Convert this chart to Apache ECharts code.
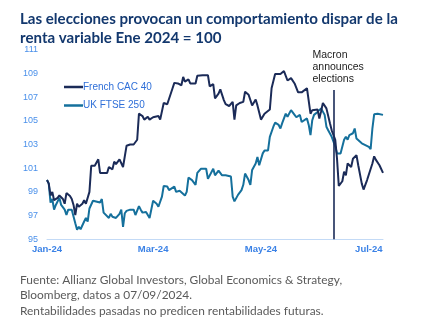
<!DOCTYPE html>
<html>
<head>
<meta charset="utf-8">
<script src="https://cdn.jsdelivr.net/npm/echarts@6/dist/echarts.min.js"></script>
<style>html,body{margin:0;padding:0;background:#fff;}#c{width:440px;height:332px;}</style>
</head>
<body>
<div id="c"></div>
<script>
var cacDates = ['2024-01-01','2024-01-02','2024-01-03','2024-01-04','2024-01-05','2024-01-07','2024-01-08','2024-01-10','2024-01-11','2024-01-12','2024-01-14','2024-01-15','2024-01-16','2024-01-17','2024-01-18','2024-01-19','2024-01-21','2024-01-22','2024-01-23','2024-01-25','2024-01-26','2024-01-28','2024-01-30','2024-01-31','2024-02-04','2024-02-05','2024-02-07','2024-02-08','2024-02-09','2024-02-11','2024-02-12','2024-02-13','2024-02-15','2024-02-17','2024-02-19','2024-02-21','2024-02-22','2024-02-24','2024-02-25','2024-02-27','2024-02-28','2024-03-01','2024-03-02','2024-03-04','2024-03-05','2024-03-07','2024-03-09','2024-03-10','2024-03-12','2024-03-13','2024-03-15','2024-03-17','2024-03-18','2024-03-19','2024-03-21','2024-03-22','2024-03-25','2024-03-26','2024-03-29','2024-04-01','2024-04-02','2024-04-04','2024-04-05','2024-04-07','2024-04-08','2024-04-10','2024-04-11','2024-04-13','2024-04-15','2024-04-16','2024-04-17','2024-04-19','2024-04-21','2024-04-22','2024-04-24','2024-04-25','2024-04-26','2024-04-28','2024-04-29','2024-05-01','2024-05-03','2024-05-04','2024-05-06','2024-05-07','2024-05-09','2024-05-12','2024-05-13','2024-05-14','2024-05-16','2024-05-18','2024-05-20','2024-05-22','2024-05-24','2024-05-27','2024-05-29','2024-05-30','2024-06-02','2024-06-03','2024-06-04','2024-06-05','2024-06-07','2024-06-09','2024-06-10','2024-06-12','2024-06-13','2024-06-14','2024-06-16','2024-06-17','2024-06-18','2024-06-19','2024-06-21','2024-06-22','2024-06-24','2024-06-25','2024-06-27','2024-06-28','2024-06-30','2024-07-01','2024-07-03','2024-07-04','2024-07-05','2024-07-06','2024-07-07','2024-07-09'];
var cacValues = [100.0,99.7,98.7,99.0,98.3,98.5,98.7,98.4,98.0,98.9,98.65,98.4,97.9,97.05,98.0,97.75,98.0,98.3,98.0,99.0,101.2,101.2,101.75,100.6,100.6,101.1,100.9,101.55,101.35,101.75,101.9,101.1,102.9,103.0,103.0,103.4,105.6,105.4,105.1,105.35,105.1,105.3,105.2,105.4,105.1,106.5,106.4,106.4,107.75,108.2,108.15,108.0,108.7,108.3,108.5,108.15,108.15,108.8,108.85,108.85,107.9,108.1,106.9,107.3,107.65,106.75,106.4,106.25,106.6,105.1,106.3,106.5,106.6,107.45,107.2,107.3,106.3,106.8,106.3,105.1,105.6,105.7,105.95,107.75,108.95,108.95,109.05,109.2,108.4,108.6,108.15,107.4,107.4,107.75,105.6,105.9,105.95,105.2,105.8,106.5,106.05,104.8,104.2,103.4,101.8,99.5,99.9,100.7,100.4,101.4,101.1,101.8,102.1,101.25,99.7,99.2,100.0,100.1,101.4,102.0,101.7,101.55,101.25,100.6];

var ftseDates = ['2024-01-01','2024-01-02','2024-01-03','2024-01-04','2024-01-05','2024-01-06','2024-01-08','2024-01-09','2024-01-11','2024-01-12','2024-01-13','2024-01-15','2024-01-16','2024-01-17','2024-01-18','2024-01-19','2024-01-20','2024-01-22','2024-01-23','2024-01-24','2024-01-25','2024-01-27','2024-01-28','2024-01-31','2024-02-01','2024-02-02','2024-02-03','2024-02-05','2024-02-06','2024-02-07','2024-02-09','2024-02-11','2024-02-12','2024-02-13','2024-02-14','2024-02-15','2024-02-17','2024-02-19','2024-02-20','2024-02-22','2024-02-23','2024-02-24','2024-02-26','2024-02-28','2024-03-01','2024-03-03','2024-03-04','2024-03-06','2024-03-07','2024-03-09','2024-03-10','2024-03-11','2024-03-13','2024-03-14','2024-03-16','2024-03-17','2024-03-19','2024-03-20','2024-03-21','2024-03-23','2024-03-25','2024-03-26','2024-03-28','2024-03-31','2024-04-01','2024-04-04','2024-04-05','2024-04-07','2024-04-09','2024-04-11','2024-04-12','2024-04-14','2024-04-15','2024-04-16','2024-04-18','2024-04-19','2024-04-20','2024-04-21','2024-04-22','2024-04-24','2024-04-25','2024-04-26','2024-04-28','2024-04-29','2024-04-30','2024-05-02','2024-05-03','2024-05-05','2024-05-06','2024-05-08','2024-05-09','2024-05-11','2024-05-12','2024-05-13','2024-05-15','2024-05-16','2024-05-18','2024-05-19','2024-05-20','2024-05-21','2024-05-23','2024-05-24','2024-05-25','2024-05-27','2024-05-28','2024-05-29','2024-05-30','2024-05-31','2024-06-02','2024-06-03','2024-06-04','2024-06-06','2024-06-07','2024-06-08','2024-06-09','2024-06-10','2024-06-12','2024-06-13','2024-06-15','2024-06-16','2024-06-17','2024-06-18','2024-06-19','2024-06-20','2024-06-22','2024-06-23','2024-06-24','2024-06-25','2024-06-27','2024-06-29','2024-07-01','2024-07-02','2024-07-03','2024-07-04','2024-07-06','2024-07-09'];
var ftseValues = [100.0,99.7,98.1,98.4,97.5,97.9,98.5,97.9,97.5,97.05,97.5,97.5,97.4,96.35,95.8,96.05,95.85,96.5,96.8,96.5,97.6,98.25,98.1,98.1,98.4,97.25,97.3,96.8,97.15,96.9,96.8,97.15,97.5,96.05,97.2,97.4,97.5,97.5,97.05,97.8,97.5,97.25,97.3,96.8,98.25,98.0,97.75,98.6,99.5,99.45,99.15,99.3,99.45,99.0,99.1,99.0,98.7,99.0,100.2,100.0,99.6,100.6,100.95,100.95,100.1,100.95,100.4,100.8,100.4,100.4,100.3,100.3,98.6,98.2,98.75,98.6,99.15,99.6,100.55,100.0,99.6,100.85,101.4,101.95,101.25,102.25,102.5,102.5,103.65,104.5,104.85,104.65,104.35,104.8,105.6,105.35,105.9,105.75,105.5,105.3,105.5,104.9,105.05,105.2,104.65,103.8,105.05,105.5,105.75,105.9,106.05,105.5,104.5,104.2,104.1,103.65,102.85,102.25,102.25,102.4,103.4,103.65,103.4,103.8,103.95,104.35,103.5,103.4,103.1,102.95,102.8,102.6,104.35,105.55,105.6,105.5];

var seriesNames = ['French CAC 40', 'UK FTSE 250'];
var xLabelMonths = ['Jan-24', '', 'Mar-24', '', 'May-24', '', 'Jul-24'];
var eventDate = '2024-06-11';
var eventLabel = 'Macron\nannounces\nelections';
var eventTop = 107.6;

function zip(d, v) { return d.map(function (x, i) { return [x, v[i]]; }); }

var chart = echarts.init(document.getElementById('c'), null, { renderer: 'canvas' });
chart.setOption({
  animation: false,
  backgroundColor: '#ffffff',
  title: [{
    text: 'Las elecciones provocan un comportamiento dispar de la\nrenta variable Ene 2024 = 100',
    left: 15, top: 5,
    textStyle: { fontFamily: 'Lato', fontWeight: 'bold', fontSize: 15.1, lineHeight: 19, color: '#13386e' }
  }, {
    text: 'Fuente: Allianz Global Investors, Global Economics & Strategy,\nBloomberg, datos a 07/09/2024.\nRentabilidades pasadas no predicen rentabilidades futuras.',
    left: 15, top: 267,
    textStyle: { fontFamily: 'Lato', fontWeight: 'normal', fontSize: 11.9, lineHeight: 15.5, color: '#5a5a5a' }
  }],
  legend: {
    orient: 'vertical', left: 59, top: 77, itemGap: 8.5,
    itemWidth: 19, itemHeight: 2.5, icon: 'rect',
    textStyle: { fontFamily: 'Liberation Sans', fontSize: 10, color: '#2f6fd8', padding: [0, 0, 0, -5] },
    data: seriesNames
  },
  grid: { left: 47, right: 57, top: 49.7, bottom: 92.7, containLabel: false },
  xAxis: {
    type: 'time',
    min: '2024-01-01', max: '2024-07-09',
    splitNumber: 6,
    axisLine: { show: true, lineStyle: { color: '#c3daf6', width: 1 } },
    axisTick: { show: false },
    splitLine: { show: false },
    axisLabel: {
      fontFamily: 'Liberation Sans', fontSize: 9.5, fontWeight: 'bold', color: '#3b82e6', margin: 5,
      formatter: function (val) {
        var d = new Date(val);
        if (d.getDate() !== 1) return '';
        return xLabelMonths[d.getMonth()] || '';
      }
    }
  },
  yAxis: {
    type: 'value', min: 95, max: 111, interval: 2,
    axisLine: { show: false }, axisTick: { show: false }, splitLine: { show: false },
    axisLabel: { fontFamily: 'Liberation Sans', fontSize: 9, color: '#4a90ea', margin: 9 }
  },
  series: [{
    name: seriesNames[0], type: 'line', data: zip(cacDates, cacValues),
    showSymbol: false, symbol: 'none',
    lineStyle: { color: '#1b2b58', width: 2 }, itemStyle: { color: '#1b2b58' },
    z: 3,
    markLine: {
      silent: true, symbol: ['none', 'none'],
      lineStyle: { color: '#1b2b58', width: 1.6, type: 'solid' },
      label: {
        show: true, position: 'start', formatter: eventLabel,
        fontFamily: 'Liberation Sans', fontSize: 10.5, lineHeight: 12, color: '#222222',
        align: 'left', offset: [-21, 0]
      },
      data: [[{ coord: [eventDate, eventTop] }, { coord: [eventDate, 95] }]]
    }
  }, {
    name: seriesNames[1], type: 'line', data: zip(ftseDates, ftseValues),
    showSymbol: false, symbol: 'none',
    lineStyle: { color: '#15709c', width: 2 }, itemStyle: { color: '#15709c' },
    z: 2
  }]
});
</script>
</body>
</html>
